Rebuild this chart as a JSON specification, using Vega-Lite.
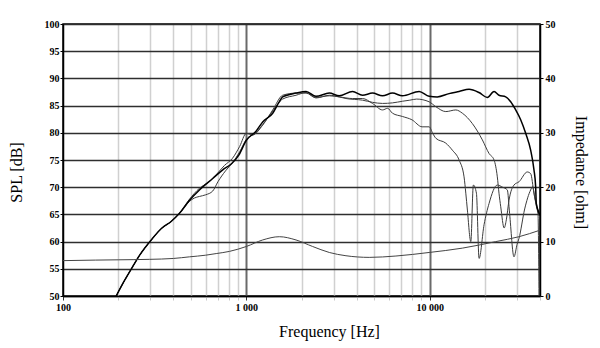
{
  "$schema": "https://vega.github.io/schema/vega-lite/v6.json",
  "width": 477,
  "height": 272,
  "autosize": {"type": "none"},
  "padding": {"left": 63, "top": 24, "right": 60, "bottom": 52},
  "background": "white",
  "config": {
    "view": {"stroke": "black", "strokeWidth": 1.5},
    "axis": {
      "labelFont": "Liberation Serif",
      "labelFontWeight": "bold",
      "labelFontSize": 10,
      "labelColor": "black",
      "titleFont": "Liberation Serif",
      "titleFontWeight": "normal",
      "titleFontSize": 16,
      "titleColor": "black",
      "domain": true,
      "domainColor": "black",
      "domainWidth": 1.5,
      "tickColor": "black",
      "labelOverlap": false,
      "labelFlush": false
    }
  },
  "datasets": {
    "spl": [
      {"s": "60", "f": 195, "db": 50},
      {"s": "60", "f": 217, "db": 52.9},
      {"s": "60", "f": 240, "db": 55.4},
      {"s": "60", "f": 262, "db": 57.5},
      {"s": "60", "f": 303, "db": 60.3},
      {"s": "60", "f": 344, "db": 62.4},
      {"s": "60", "f": 389, "db": 63.7},
      {"s": "60", "f": 432, "db": 65.2},
      {"s": "60", "f": 490, "db": 67.4},
      {"s": "60", "f": 520, "db": 68.0},
      {"s": "60", "f": 555, "db": 68.3},
      {"s": "60", "f": 600, "db": 68.6},
      {"s": "60", "f": 656, "db": 69.3},
      {"s": "60", "f": 700, "db": 71.0},
      {"s": "60", "f": 770, "db": 73.0},
      {"s": "60", "f": 840, "db": 74.5},
      {"s": "60", "f": 920, "db": 76.5},
      {"s": "60", "f": 1000, "db": 78.8},
      {"s": "60", "f": 1130, "db": 80.0},
      {"s": "60", "f": 1228, "db": 81.5},
      {"s": "60", "f": 1393, "db": 84.0},
      {"s": "60", "f": 1578, "db": 86.2},
      {"s": "60", "f": 1867, "db": 86.9},
      {"s": "60", "f": 2118, "db": 87.4},
      {"s": "60", "f": 2399, "db": 86.5},
      {"s": "60", "f": 2836, "db": 86.8},
      {"s": "60", "f": 3214, "db": 86.6},
      {"s": "60", "f": 3797, "db": 86.3},
      {"s": "60", "f": 4305, "db": 86.3},
      {"s": "60", "f": 4878, "db": 85.4},
      {"s": "60", "f": 5533, "db": 84.2},
      {"s": "60", "f": 5900, "db": 84.5},
      {"s": "60", "f": 6270, "db": 83.6},
      {"s": "60", "f": 7110, "db": 83.0},
      {"s": "60", "f": 8000, "db": 82.4},
      {"s": "60", "f": 9100, "db": 81.1},
      {"s": "60", "f": 9936, "db": 81.1},
      {"s": "60", "f": 10400, "db": 79.9},
      {"s": "60", "f": 10810, "db": 79.0},
      {"s": "60", "f": 12250, "db": 78.1},
      {"s": "60", "f": 13310, "db": 76.8},
      {"s": "60", "f": 14480, "db": 75.0},
      {"s": "60", "f": 15410, "db": 71.9},
      {"s": "60", "f": 15750, "db": 68.9},
      {"s": "60", "f": 16070, "db": 65.8},
      {"s": "60", "f": 16770, "db": 60.0},
      {"s": "60", "f": 17320, "db": 70.4},
      {"s": "60", "f": 18000, "db": 68.9},
      {"s": "60", "f": 18610, "db": 56.9},
      {"s": "60", "f": 19810, "db": 63.1},
      {"s": "60", "f": 21090, "db": 67.0},
      {"s": "60", "f": 23400, "db": 70.4},
      {"s": "60", "f": 25000, "db": 70.0},
      {"s": "60", "f": 26530, "db": 69.5},
      {"s": "60", "f": 27300, "db": 65.2},
      {"s": "60", "f": 28850, "db": 57.2},
      {"s": "60", "f": 30000, "db": 59.5},
      {"s": "60", "f": 30730, "db": 60.6},
      {"s": "60", "f": 33000, "db": 66.0},
      {"s": "60", "f": 35570, "db": 69.5},
      {"s": "60", "f": 36440, "db": 70.1},
      {"s": "60", "f": 37500, "db": 68.0},
      {"s": "60", "f": 39000, "db": 65.2},
      {"s": "60", "f": 39500, "db": 50},

      {"s": "30", "f": 195, "db": 50},
      {"s": "30", "f": 217, "db": 52.9},
      {"s": "30", "f": 240, "db": 55.4},
      {"s": "30", "f": 262, "db": 57.5},
      {"s": "30", "f": 303, "db": 60.3},
      {"s": "30", "f": 344, "db": 62.4},
      {"s": "30", "f": 389, "db": 63.7},
      {"s": "30", "f": 432, "db": 65.2},
      {"s": "30", "f": 490, "db": 67.8},
      {"s": "30", "f": 555, "db": 69.8},
      {"s": "30", "f": 620, "db": 70.9},
      {"s": "30", "f": 685, "db": 72.3},
      {"s": "30", "f": 760, "db": 74.0},
      {"s": "30", "f": 840, "db": 75.3},
      {"s": "30", "f": 920, "db": 77.5},
      {"s": "30", "f": 1000, "db": 79.9},
      {"s": "30", "f": 1080, "db": 79.6},
      {"s": "30", "f": 1228, "db": 81.4},
      {"s": "30", "f": 1393, "db": 84.2},
      {"s": "30", "f": 1578, "db": 86.9},
      {"s": "30", "f": 1867, "db": 87.3},
      {"s": "30", "f": 2118, "db": 87.3},
      {"s": "30", "f": 2399, "db": 86.4},
      {"s": "30", "f": 2836, "db": 86.9},
      {"s": "30", "f": 3214, "db": 86.6},
      {"s": "30", "f": 3496, "db": 86.3},
      {"s": "30", "f": 4305, "db": 86.0},
      {"s": "30", "f": 4878, "db": 85.6},
      {"s": "30", "f": 5533, "db": 85.4},
      {"s": "30", "f": 6270, "db": 85.5},
      {"s": "30", "f": 7110, "db": 85.8},
      {"s": "30", "f": 7800, "db": 86.0},
      {"s": "30", "f": 8500, "db": 86.2},
      {"s": "30", "f": 9936, "db": 85.7},
      {"s": "30", "f": 10810, "db": 84.8},
      {"s": "30", "f": 12250, "db": 83.9},
      {"s": "30", "f": 13890, "db": 84.2},
      {"s": "30", "f": 15090, "db": 83.6},
      {"s": "30", "f": 17100, "db": 81.7},
      {"s": "30", "f": 19390, "db": 78.7},
      {"s": "30", "f": 21090, "db": 76.2},
      {"s": "30", "f": 22460, "db": 75.0},
      {"s": "30", "f": 23400, "db": 71.9},
      {"s": "30", "f": 23900, "db": 68.9},
      {"s": "30", "f": 24430, "db": 66.4},
      {"s": "30", "f": 25500, "db": 62.5},
      {"s": "30", "f": 26200, "db": 64.0},
      {"s": "30", "f": 27100, "db": 67.6},
      {"s": "30", "f": 28850, "db": 70.4},
      {"s": "30", "f": 30730, "db": 71.0},
      {"s": "30", "f": 34100, "db": 72.8},
      {"s": "30", "f": 35570, "db": 72.5},
      {"s": "30", "f": 37080, "db": 68.9},
      {"s": "30", "f": 38650, "db": 65.8},
      {"s": "30", "f": 40000, "db": 64.4},

      {"s": "0", "f": 195, "db": 50},
      {"s": "0", "f": 217, "db": 52.9},
      {"s": "0", "f": 240, "db": 55.4},
      {"s": "0", "f": 262, "db": 57.5},
      {"s": "0", "f": 303, "db": 60.3},
      {"s": "0", "f": 344, "db": 62.4},
      {"s": "0", "f": 389, "db": 63.7},
      {"s": "0", "f": 432, "db": 65.2},
      {"s": "0", "f": 490, "db": 67.6},
      {"s": "0", "f": 555, "db": 69.5},
      {"s": "0", "f": 656, "db": 71.6},
      {"s": "0", "f": 744, "db": 73.2},
      {"s": "0", "f": 830, "db": 74.3},
      {"s": "0", "f": 910, "db": 75.9},
      {"s": "0", "f": 1000, "db": 78.6},
      {"s": "0", "f": 1130, "db": 80.3},
      {"s": "0", "f": 1228, "db": 82.0},
      {"s": "0", "f": 1393, "db": 83.6},
      {"s": "0", "f": 1500, "db": 85.5},
      {"s": "0", "f": 1578, "db": 86.6},
      {"s": "0", "f": 1867, "db": 87.3},
      {"s": "0", "f": 2118, "db": 87.6},
      {"s": "0", "f": 2399, "db": 86.7},
      {"s": "0", "f": 2836, "db": 87.3},
      {"s": "0", "f": 3214, "db": 86.8},
      {"s": "0", "f": 3797, "db": 87.6},
      {"s": "0", "f": 4305, "db": 86.9},
      {"s": "0", "f": 4878, "db": 87.3},
      {"s": "0", "f": 5533, "db": 86.8},
      {"s": "0", "f": 6270, "db": 87.3},
      {"s": "0", "f": 7110, "db": 86.8},
      {"s": "0", "f": 8767, "db": 87.6},
      {"s": "0", "f": 9936, "db": 86.7},
      {"s": "0", "f": 11000, "db": 86.6},
      {"s": "0", "f": 12770, "db": 87.2},
      {"s": "0", "f": 14480, "db": 87.6},
      {"s": "0", "f": 16410, "db": 88.0},
      {"s": "0", "f": 18600, "db": 87.4},
      {"s": "0", "f": 20640, "db": 86.5},
      {"s": "0", "f": 22460, "db": 87.6},
      {"s": "0", "f": 23900, "db": 86.9},
      {"s": "0", "f": 26000, "db": 86.6},
      {"s": "0", "f": 27680, "db": 85.7},
      {"s": "0", "f": 29480, "db": 84.2},
      {"s": "0", "f": 31380, "db": 82.4},
      {"s": "0", "f": 33420, "db": 79.9},
      {"s": "0", "f": 35570, "db": 76.8},
      {"s": "0", "f": 37080, "db": 73.2},
      {"s": "0", "f": 37870, "db": 70.1},
      {"s": "0", "f": 38180, "db": 67.0},
      {"s": "0", "f": 39000, "db": 65.8},
      {"s": "0", "f": 40000, "db": 64.8}
    ],
    "imp": [
      {"f": 100, "ohm": 6.5},
      {"f": 150, "ohm": 6.6},
      {"f": 200, "ohm": 6.65},
      {"f": 297, "ohm": 6.74},
      {"f": 400, "ohm": 6.9},
      {"f": 490, "ohm": 7.2},
      {"f": 600, "ohm": 7.5},
      {"f": 685, "ohm": 7.8},
      {"f": 809, "ohm": 8.2},
      {"f": 1000, "ohm": 9.1},
      {"f": 1228, "ohm": 10.3},
      {"f": 1514, "ohm": 10.9},
      {"f": 1867, "ohm": 10.3},
      {"f": 2300, "ohm": 9.1},
      {"f": 2836, "ohm": 8.0},
      {"f": 3496, "ohm": 7.4},
      {"f": 4683, "ohm": 7.1},
      {"f": 6545, "ohm": 7.35},
      {"f": 9936, "ohm": 8.0},
      {"f": 15090, "ohm": 8.8},
      {"f": 22940, "ohm": 10.0},
      {"f": 30730, "ohm": 10.9},
      {"f": 40000, "ohm": 12.1}
    ]
  },
  "encoding": {
    "x": {
      "field": "f",
      "type": "quantitative",
      "scale": {"type": "log", "domain": [100, 40000]},
      "axis": {
        "values": [100, 200, 300, 400, 500, 600, 700, 800, 900, 1000, 2000, 3000, 4000, 5000, 6000, 7000, 8000, 9000, 10000, 20000, 30000, 40000],
        "labelExpr": "datum.value == 100 ? '100' : datum.value == 1000 ? '1 000' : datum.value == 10000 ? '10 000' : ''",
        "grid": true,
        "gridColor": {"condition": {"test": "datum.value == 1000 || datum.value == 10000", "value": "#6a6a6a"}, "value": "#d0d0d0"},
        "gridWidth": {"condition": {"test": "datum.value == 1000 || datum.value == 10000", "value": 2}, "value": 1.5},
        "gridOpacity": {"condition": {"test": "datum.value == 100 || datum.value == 40000", "value": 0}, "value": 1},
        "tickColor": {"condition": {"test": "datum.value == 1000 || datum.value == 10000 || datum.value == 100", "value": "#333333"}, "value": "#c8c8c8"},
        "tickSize": 4,
        "labelPadding": 2,
        "title": "Frequency [Hz]",
        "titleX": 266,
        "titleY": 35,
        "titleBaseline": "middle"
      }
    }
  },
  "layer": [
    {
      "layer": [
        {
          "data": {"name": "spl"},
          "transform": [{"filter": "datum.s == '60'"}],
          "mark": {"type": "line", "color": "#3c3c3c", "strokeWidth": 1, "clip": true, "interpolate": "monotone"},
          "encoding": {"y": {"field": "db", "type": "quantitative"}}
        },
        {
          "data": {"name": "spl"},
          "transform": [{"filter": "datum.s == '30'"}],
          "mark": {"type": "line", "color": "#3c3c3c", "strokeWidth": 1, "clip": true, "interpolate": "monotone"},
          "encoding": {"y": {"field": "db", "type": "quantitative"}}
        },
        {
          "data": {"name": "spl"},
          "transform": [{"filter": "datum.s == '0'"}],
          "mark": {"type": "line", "color": "#000000", "strokeWidth": 1.5, "clip": true, "interpolate": "monotone"},
          "encoding": {"y": {"field": "db", "type": "quantitative"}}
        }
      ],
      "encoding": {
        "y": {
          "field": "db",
          "type": "quantitative",
          "scale": {"domain": [50, 100], "nice": false, "zero": false},
          "axis": {
            "orient": "left",
            "values": [50, 55, 60, 65, 70, 75, 80, 85, 90, 95, 100],
            "grid": true,
            "gridColor": "#2e2e2e",
            "gridWidth": 1.3,
            "tickSize": 3,
            "labelPadding": 1,
            "title": "SPL [dB]",
            "titleX": -47,
            "titleY": 148,
            "titleBaseline": "middle"
          }
        }
      }
    },
    {
      "data": {"name": "imp"},
      "mark": {"type": "line", "color": "#444444", "strokeWidth": 1, "clip": true, "interpolate": "monotone"},
      "encoding": {
        "y": {
          "field": "ohm",
          "type": "quantitative",
          "scale": {"domain": [0, 50], "nice": false},
          "axis": {
            "orient": "right",
            "values": [0, 10, 20, 30, 40, 50],
            "grid": false,
            "tickSize": 3,
            "labelPadding": 2,
            "title": "Impedance [ohm]",
            "titleAngle": 90,
            "titleX": 40,
            "titleY": 148,
            "titleBaseline": "middle"
          }
        }
      }
    }
  ],
  "resolve": {"scale": {"y": "independent"}}
}
